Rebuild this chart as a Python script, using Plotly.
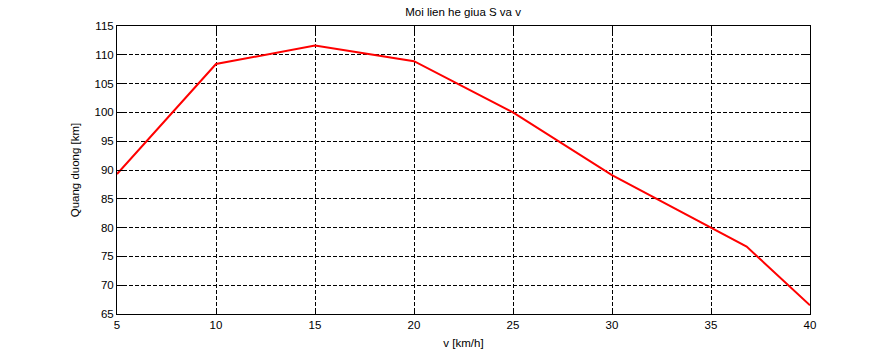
import plotly.graph_objects as go

v_kmh = [5, 10, 15, 20, 25, 30, 36.8, 40]
s_km = [89.3, 108.4, 111.6, 108.9, 100.0, 89.1, 76.7, 66.5]

x_ticks = [5, 10, 15, 20, 25, 30, 35, 40]
y_ticks = [65, 70, 75, 80, 85, 90, 95, 100, 105, 110, 115]

font = "Liberation Sans, Arial, Helvetica, sans-serif"

fig = go.Figure()
fig.add_trace(go.Scatter(x=v_kmh, y=s_km, mode="lines",
                         line=dict(color="#ff0000", width=2), showlegend=False))

axis_common = dict(
    showline=True, linecolor="black", linewidth=1, mirror="allticks",
    ticks="inside", ticklen=6, tickcolor="black", tickwidth=1,
    showgrid=True, gridcolor="black", gridwidth=1, griddash="4px,2px",
    zeroline=False, tickfont=dict(family=font, size=11.5, color="black"),
    automargin=False,
)

fig.update_xaxes(range=[5, 40], tickvals=x_ticks,
                 title=dict(text="v [km/h]", font=dict(family=font, size=11.5, color="black"), standoff=9),
                 **axis_common)
fig.update_yaxes(range=[65, 115], tickvals=y_ticks,
                 title=dict(text="Quang duong [km]", font=dict(family=font, size=11.5, color="black"), standoff=12),
                 **axis_common)

fig.update_layout(
    width=894, height=353,
    margin=dict(l=117, r=84, t=26, b=39),
    paper_bgcolor="white", plot_bgcolor="white",
    title=dict(text="Moi lien he giua S va v", x=0.518, xanchor="center",
               y=0.965, yanchor="middle",
               font=dict(family=font, size=11.5, color="black")),
)

fig.write_html("out.html")
